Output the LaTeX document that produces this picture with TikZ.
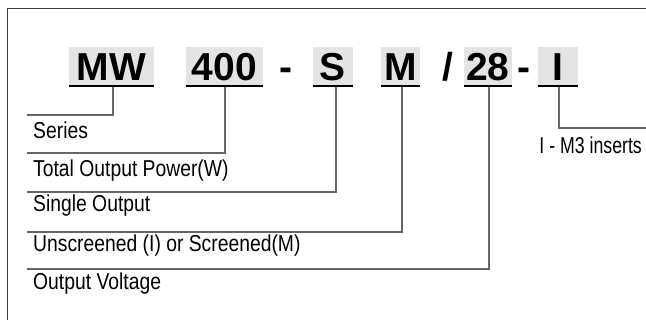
\documentclass[tikz,border=0pt]{standalone}
\usepackage{fontspec}
\setmainfont{Liberation Sans}
\newfontfamily\bigfont{Liberation Sans}[BoldFont={Liberation Sans Bold}]
\newfontfamily\condfont{Liberation Sans}[FakeStretch=0.84]
\newfontfamily\narrowfont{Liberation Sans}[FakeStretch=0.77]
\definecolor{boxgray}{HTML}{E4E4E4}
\definecolor{linegray}{HTML}{666666}
\definecolor{framegray}{HTML}{3A3A3A}
\begin{document}
\begin{tikzpicture}[x=1pt,y=-1pt,
  codebox/.style={fill=boxgray, inner sep=0pt, minimum height=39pt,
    text height=28pt, text depth=0pt, font=\bigfont\bfseries\fontsize{39}{39}\selectfont},
  sep/.style={inner sep=0pt, text height=28pt, text depth=0pt,
    font=\bigfont\bfseries\fontsize{39}{39}\selectfont},
  uline/.style={draw=black, line width=2.6pt},
  conn/.style={draw=linegray, line width=1.1pt},
  lbl/.style={anchor=base west, inner sep=0pt, font=\condfont\fontsize{23}{23}\selectfont},
  frame/.style={draw=framegray, line width=1.4pt}
]
\useasboundingbox (0,0) rectangle (646,320);
% frame (top and left only)
\coordinate (fbl) at (7.5,320);
\coordinate (ftl) at (7.5,8.5);
\coordinate (ftr) at (646,8.5);
\draw[frame] (fbl) -- (ftl) -- (ftr);

% code boxes
\node[codebox, minimum width=85pt] (mw) at (111.5,66.5) {MW};
\node[codebox, minimum width=77pt] (p400) at (224.5,66.5) {400};
\node[sep] (d1) at (286,66.5) {-};
\node[codebox, minimum width=40pt] (s) at (333,66.5) {S};
\node[codebox, minimum width=39pt] (m) at (400.5,66.5) {M};
\node[sep] (sl) at (448,66.5) {/};
\node[codebox, minimum width=48pt] (v28) at (488,66.5) {28};
\node[sep] (d2) at (524,66.5) {-};
\node[codebox, minimum width=40pt] (ins) at (558,66.5) {I};

% underlines
\foreach \n in {mw,p400,s,m,v28,ins}
  \draw[uline] (\n.south west) -- (\n.south east);

% labels
\node[lbl] (series) at (33,139) {Series};
\node[lbl] (power) at (33,177) {Total Output Power(W)};
\node[lbl] (single) at (33,212) {Single Output};
\node[lbl] (screen) at (33,252) {Unscreened (I) or Screened(M)};
\node[lbl] (volt) at (33,290) {Output Voltage};
\node[lbl, anchor=base east, font=\narrowfont\fontsize{23}{23}\selectfont] (insl) at (642,154) {I - M3 inserts};

% connector ends
\coordinate (e1) at (27,115);
\coordinate (e2) at (27,153);
\coordinate (e3) at (27,192);
\coordinate (e4) at (27,232);
\coordinate (e5) at (27,269);
\coordinate (e6) at (646,128);

\draw[conn] ([xshift=1.5pt,yshift=-1.3pt]mw.south) |- (e1);
\draw[conn] ([xshift=0.5pt,yshift=-1.3pt]p400.south) |- (e2);
\draw[conn] ([xshift=3pt,yshift=-1.3pt]s.south) |- (e3);
\draw[conn] ([xshift=1.5pt,yshift=-1.3pt]m.south) |- (e4);
\draw[conn] ([xshift=1pt,yshift=-1.3pt]v28.south) |- (e5);
\draw[conn] ([xshift=1pt,yshift=-1.3pt]ins.south) |- (e6);
\end{tikzpicture}
\end{document}
